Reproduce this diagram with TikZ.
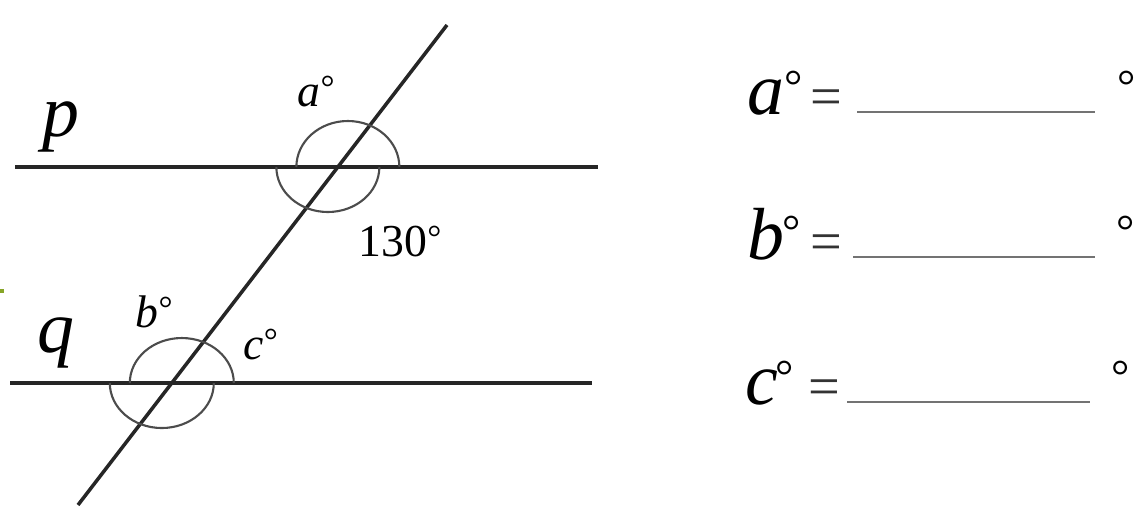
\documentclass[tikz,border=0pt]{standalone}
\usepackage{fontspec}
\setmainfont{Liberation Serif}
\usetikzlibrary{calc}
\definecolor{speck}{RGB}{135,165,40}
\newcommand{\dg}{\raisebox{2pt}{\fontsize{10}{12}\selectfont\upshape °}}

\begin{document}
\begin{tikzpicture}[x=0.01cm,y=-0.01cm,
  line/.style={line width=1pt,black!85},
  anglemark/.style={line width=0.6pt,black!70},
  blank/.style={line width=0.7pt,black!55},
  small/.style={font=\fontsize{13}{15}\selectfont\itshape,inner sep=0pt,anchor=base west},
  smallup/.style={font=\fontsize{13}{15}\selectfont,inner sep=0pt,anchor=base west},
  big/.style={font=\fontsize{21}{25}\selectfont\itshape,inner sep=0pt,anchor=base west}]
  \useasboundingbox (0,0) rectangle (1140,531);
  \coordinate (p1) at (15,167); \coordinate (p2) at (598,167);
  \coordinate (q1) at (10,383); \coordinate (q2) at (592,383);
  \coordinate (t1) at (78,505); \coordinate (t2) at (447,25);
  \coordinate (P) at (intersection of p1--p2 and t1--t2);
  \coordinate (Q) at (intersection of q1--q2 and t1--t2);
  \draw[line] (p1) -- (p2);
  \draw[line] (q1) -- (q2);
  \draw[line] (t1) -- (t2);
  % angle marks, two half circles each
  \draw[anglemark] ($(P)+(61.5,0)$) arc[start angle=0,end angle=-180,x radius=51.5,y radius=46];
  \draw[anglemark] ($(P)+(-61.5,0)$) arc[start angle=180,end angle=0,x radius=51.5,y radius=45];
  \draw[anglemark] ($(Q)+(62,0)$) arc[start angle=0,end angle=-180,x radius=52,y radius=45];
  \draw[anglemark] ($(Q)+(-62,0)$) arc[start angle=180,end angle=0,x radius=52,y radius=45];
  \node[small] (alab) at (297,107) {a\dg};
  \node[smallup] (given) at (358,257) {130\dg};
  \node[small] (blab) at (135,328) {b\dg};
  \node[small] (clab) at (243,360) {c\dg};
  \node[big] (plab) at (42,137) {p};
  \node[big] (qlab) at (37,353) {q};
  % answers
  \foreach \l/\y/\xl/\xs/\xa/\xb/\xu in {a/115/747/784/857/1095/1117, b/260/747/782/853/1095/1116, c/405/745/775/847/1090/1111} {
    \node[big] (\l name) at (\xl,\y) {\l};
    \node[smallup] (\l sup) at (\xs,\y-13) {°};
    \node[smallup,font=\fontsize{16}{18}\selectfont,black!80] (\l eq) at (\xl+63,\y+1) {=};
    \coordinate (\l s) at (\xa,\y-3); \coordinate (\l e) at (\xb,\y-3);
    \draw[blank] (\l s) -- (\l e);
    \node[smallup] (\l unit) at (\xu,\y-13) {°};
  }
  \draw[speck,line width=1pt] (0,291) -- (4,291);
\end{tikzpicture}
\end{document}
